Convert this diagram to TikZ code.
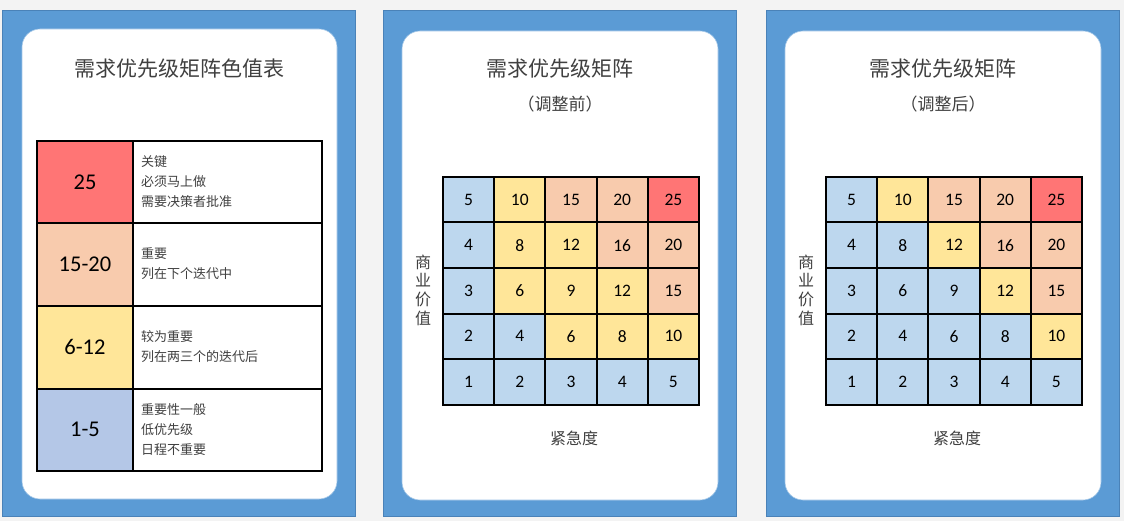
\documentclass[tikz,border=0pt]{standalone}
\usepackage{fontspec}
\setmainfont{Carlito}
\newfontfamily\cjk{Noto Sans CJK SC}
\definecolor{bgc}{HTML}{F3F3F3}
\definecolor{pblue}{HTML}{5B9BD5}
\definecolor{pborder}{HTML}{4A82B8}
\definecolor{cardedge}{HTML}{9DC3E6}
\definecolor{txt}{HTML}{404040}
\definecolor{colR}{HTML}{FF7575}
\definecolor{colP}{HTML}{F8CBAD}
\definecolor{colY}{HTML}{FFE699}
\definecolor{colB}{HTML}{BDD7EE}
\definecolor{colL}{HTML}{B4C7E7}
\begin{document}
\begin{tikzpicture}[x=1pt,y=-1pt,
  panel/.style={fill=pblue,draw=pborder,line width=1pt},
  card/.style={fill=white,draw=cardedge,line width=0.6pt,rounded corners=18pt},
  title/.style={font=\cjk\fontsize{21}{24}\selectfont,text=txt,inner sep=0pt},
  subtitle/.style={font=\cjk\fontsize{17}{20}\selectfont,text=txt,inner sep=0pt},
  axlab/.style={font=\cjk\fontsize{16}{18.7}\selectfont,text=txt,inner sep=0pt,align=center},
  cell/.style={draw=black,line width=2pt,minimum width=51.2pt,minimum height=45.5pt,inner sep=0pt,anchor=north west,font=\fontsize{17.5}{17.5}\selectfont},
  keycell/.style={draw=black,line width=2pt,minimum width=96pt,minimum height=82.5pt,inner sep=0pt,anchor=north west,font=\fontsize{22.5}{22.5}\selectfont},
  desccell/.style={draw=black,line width=2pt,minimum width=189pt,minimum height=82.5pt,inner sep=0pt,anchor=north west,fill=white},
  desc/.style={font=\cjk\fontsize{13}{20}\selectfont,text=txt,align=left,inner sep=0pt,anchor=west}
]
\useasboundingbox (0,0) rectangle (1124,521);
\fill[bgc] (0,0) rectangle (1124,521);

% panels
\draw[panel] (2,11) rectangle (355,516.5);
\draw[card] (22,29) rectangle (337,499);
\draw[panel] (383,11) rectangle (736,516.5);
\draw[card] (402,31) rectangle (718,500);
\draw[panel] (766,11) rectangle (1119,516.5);
\draw[card] (785,31) rectangle (1101,500);

% ---------- panel 1 ----------
\node[title] (t1) at (179.5,69) {需求优先级矩阵色值表};
\node[keycell,fill=colR] (k1) at (36,140) {25};
\node[desccell] (d1) at (132,140) {};
\node[keycell,fill=colP] (k2) at (36,222.5) {15-20};
\node[desccell] (d2) at (132,222.5) {};
\node[keycell,fill=colY] (k3) at (36,305) {6-12};
\node[desccell] (d3) at (132,305) {};
\node[keycell,fill=colL] (k4) at (36,387.5) {1-5};
\node[desccell] (d4) at (132,387.5) {};
\node[desc] (e1) at (141,182) {关键\\必须马上做\\需要决策者批准};
\node[desc] (e2) at (141,264) {重要\\列在下个迭代中};
\node[desc] (e3) at (141,347) {较为重要\\列在两三个的迭代后};
\node[desc] (e4) at (141,430) {重要性一般\\低优先级\\日程不重要};

% ---------- panel 2 ----------
\node[title] (t2) at (560,69) {需求优先级矩阵};
\node[subtitle] (s2) at (560,104.5) {（调整前）};
\foreach [count=\r] \rowlist in {{5/B,10/Y,15/P,20/P,25/R},{4/B,8/Y,12/Y,16/P,20/P},{3/B,6/Y,9/Y,12/Y,15/P},{2/B,4/B,6/Y,8/Y,10/Y},{1/B,2/B,3/B,4/B,5/B}}
  \foreach [count=\c] \v/\k in \rowlist
    \node[cell,fill=col\k] (a\r\c) at ({442+51.2*(\c-1)},{176+45.5*(\r-1)}) {\v};
\node[axlab] (y2) at (423,290) {商\\业\\价\\值};
\node[axlab] (x2) at (574,438) {紧急度};

% ---------- panel 3 ----------
\node[title] (t3) at (943,69) {需求优先级矩阵};
\node[subtitle] (s3) at (943,104.5) {（调整后）};
\foreach [count=\r] \rowlist in {{5/B,10/Y,15/P,20/P,25/R},{4/B,8/B,12/Y,16/P,20/P},{3/B,6/B,9/B,12/Y,15/P},{2/B,4/B,6/B,8/B,10/Y},{1/B,2/B,3/B,4/B,5/B}}
  \foreach [count=\c] \v/\k in \rowlist
    \node[cell,fill=col\k] (b\r\c) at ({825+51.2*(\c-1)},{176+45.5*(\r-1)}) {\v};
\node[axlab] (y3) at (806,290) {商\\业\\价\\值};
\node[axlab] (x3) at (957,438) {紧急度};
\end{tikzpicture}
\end{document}
